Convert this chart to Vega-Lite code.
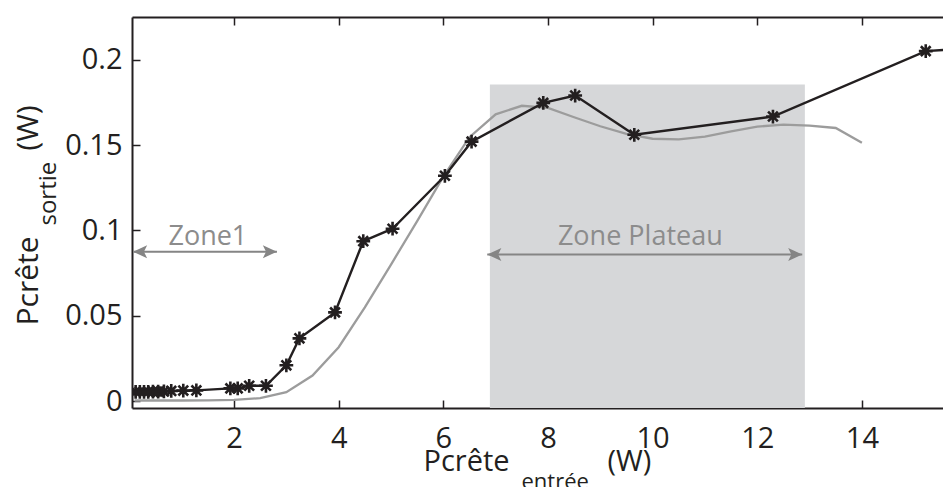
{
  "$schema": "https://vega.github.io/schema/vega-lite/v6.json",
  "width": 811,
  "height": 391,
  "autosize": {"type": "none"},
  "padding": {"left": 132, "top": 17, "right": 0, "bottom": 79},
  "background": "white",
  "config": {
    "view": {"stroke": null},
    "axis": {
      "grid": false,
      "domainColor": "#231f20",
      "domainWidth": 2,
      "tickColor": "#231f20",
      "tickWidth": 1.5,
      "tickSize": -8,
      "labelFont": "Open Sans",
      "labelFontSize": 29,
      "labelColor": "#231f20",
      "titleFont": "Open Sans",
      "titleFontWeight": "normal",
      "titleColor": "#231f20"
    }
  },
  "datasets": {
    "meas": [
      {"x": 0.12, "y": 0.0055}, {"x": 0.2, "y": 0.0055}, {"x": 0.28, "y": 0.0055}, {"x": 0.36, "y": 0.0055},
      {"x": 0.45, "y": 0.0056}, {"x": 0.55, "y": 0.0056}, {"x": 0.66, "y": 0.0057}, {"x": 0.8, "y": 0.006},
      {"x": 1.03, "y": 0.0062}, {"x": 1.28, "y": 0.0063}, {"x": 1.93, "y": 0.0075}, {"x": 2.07, "y": 0.0075},
      {"x": 2.29, "y": 0.009}, {"x": 2.61, "y": 0.009}, {"x": 3.0, "y": 0.021}, {"x": 3.25, "y": 0.0368},
      {"x": 3.93, "y": 0.052}, {"x": 4.47, "y": 0.0937}, {"x": 5.03, "y": 0.101}, {"x": 6.03, "y": 0.132},
      {"x": 6.54, "y": 0.152}, {"x": 7.91, "y": 0.1747}, {"x": 8.52, "y": 0.179}, {"x": 9.65, "y": 0.156},
      {"x": 12.3, "y": 0.1667}, {"x": 15.22, "y": 0.205}, {"x": 16.0, "y": 0.2065}
    ],
    "model": [
      {"x": 0.1, "y": 0.0004}, {"x": 0.5, "y": 0.0004}, {"x": 1.0, "y": 0.0004}, {"x": 1.5, "y": 0.0005},
      {"x": 2.0, "y": 0.0007}, {"x": 2.5, "y": 0.0018}, {"x": 3.0, "y": 0.0053}, {"x": 3.5, "y": 0.015},
      {"x": 4.0, "y": 0.0316}, {"x": 4.5, "y": 0.055}, {"x": 5.0, "y": 0.08}, {"x": 5.5, "y": 0.1055},
      {"x": 6.0, "y": 0.1315}, {"x": 6.5, "y": 0.1546}, {"x": 7.0, "y": 0.168}, {"x": 7.5, "y": 0.173},
      {"x": 8.0, "y": 0.1718}, {"x": 8.5, "y": 0.1663}, {"x": 9.0, "y": 0.161}, {"x": 9.5, "y": 0.1565},
      {"x": 10.0, "y": 0.1537}, {"x": 10.5, "y": 0.1533}, {"x": 11.0, "y": 0.155}, {"x": 11.5, "y": 0.158},
      {"x": 12.0, "y": 0.1608}, {"x": 12.5, "y": 0.162}, {"x": 13.0, "y": 0.1614}, {"x": 13.5, "y": 0.16},
      {"x": 14.0, "y": 0.1513}
    ],
    "zones": [{"x1": 6.89, "x2": 12.91, "y1": -0.004, "y2": 0.1854}],
    "arrows": [
      {"x1": 0.07, "x2": 2.82, "y": 0.0875},
      {"x1": 6.84, "x2": 12.86, "y": 0.0859}
    ],
    "heads": [
      {"x": 0.07, "y": 0.0875, "dir": "l"},
      {"x": 2.82, "y": 0.0875, "dir": "r"},
      {"x": 6.84, "y": 0.0859, "dir": "l"},
      {"x": 12.86, "y": 0.0859, "dir": "r"}
    ],
    "labels": [
      {"x": 1.5, "y": 0.0912, "t": "Zone1"},
      {"x": 9.765, "y": 0.0912, "t": "Zone Plateau"}
    ]
  },
  "resolve": {"axis": {"x": "independent", "y": "independent"}},
  "layer": [
    {
      "data": {"name": "zones"},
      "mark": {"type": "rect", "color": "#d6d7d9"},
      "encoding": {
        "x": {
          "field": "x1", "type": "quantitative",
          "scale": {"domain": [0.05, 15.55], "nice": false, "zero": false},
          "axis": {
            "orient": "bottom",
            "values": [2, 4, 6, 8, 10, 12, 14],
            "labelPadding": 24,
            "title": "Pcrête\u00a0\u00a0\u00a0\u00a0\u00a0\u00a0\u00a0\u00a0\u00a0\u00a0\u00a0\u00a0\u00a0(W)",
            "titleFontSize": 29,
            "titleAnchor": null,
            "titleAlign": "left",
            "titleBaseline": "alphabetic",
            "titleX": 291,
            "titleY": 62
          }
        },
        "x2": {"field": "x2"},
        "y": {
          "field": "y1", "type": "quantitative",
          "scale": {"domain": [-0.004, 0.225], "nice": false, "zero": false},
          "axis": {
            "orient": "left",
            "values": [0, 0.05, 0.1, 0.15, 0.2],
            "format": ".2~f",
            "labelPadding": 18,
            "title": "Pcrête\u00a0\u00a0\u00a0\u00a0\u00a0\u00a0\u00a0\u00a0\u00a0\u00a0\u00a0(W)",
            "titleFontSize": 30,
            "titleAngle": 270,
            "titleAnchor": null,
            "titleAlign": "left",
            "titleBaseline": "alphabetic",
            "titleX": -95,
            "titleY": 308
          }
        },
        "y2": {"field": "y2"}
      }
    },
    {
      "data": {"name": "model"},
      "mark": {"type": "line", "color": "#9c9c9c", "strokeWidth": 2.3, "clip": true},
      "encoding": {
        "x": {
          "field": "x", "type": "quantitative",
          "scale": {"domain": [0.05, 15.55], "nice": false, "zero": false},
          "axis": {
            "orient": "top",
            "values": [2, 4, 6, 8, 10, 12, 14],
            "labels": false,
            "title": "entrée",
            "titleFontSize": 22,
            "titleAnchor": null,
            "titleAlign": "left",
            "titleBaseline": "alphabetic",
            "titleX": 389,
            "titleY": 471
          }
        },
        "y": {
          "field": "y", "type": "quantitative",
          "scale": {"domain": [-0.004, 0.225], "nice": false, "zero": false},
          "axis": {
            "orient": "right",
            "domain": false,
            "ticks": false,
            "labels": false,
            "title": "sortie",
            "titleFontSize": 24,
            "titleAngle": 270,
            "titleAnchor": null,
            "titleAlign": "left",
            "titleBaseline": "alphabetic",
            "titleX": -888,
            "titleY": 208
          }
        }
      }
    },
    {
      "data": {"name": "meas"},
      "mark": {"type": "line", "color": "#231f20", "strokeWidth": 2.4, "clip": true},
      "encoding": {
        "x": {"field": "x", "type": "quantitative", "scale": {"domain": [0.05, 15.55], "nice": false, "zero": false}, "axis": null},
        "y": {"field": "y", "type": "quantitative", "scale": {"domain": [-0.004, 0.225], "nice": false, "zero": false}, "axis": null}
      }
    },
    {
      "data": {"name": "meas"},
      "mark": {
        "type": "point",
        "shape": "M-1,0L1,0M0,-1L0,1M-0.71,-0.71L0.71,0.71M-0.71,0.71L0.71,-0.71",
        "filled": false,
        "stroke": "#231f20",
        "strokeWidth": 2.6,
        "size": 190,
        "opacity": 1,
        "clip": true
      },
      "encoding": {
        "x": {"field": "x", "type": "quantitative", "scale": {"domain": [0.05, 15.55], "nice": false, "zero": false}, "axis": null},
        "y": {"field": "y", "type": "quantitative", "scale": {"domain": [-0.004, 0.225], "nice": false, "zero": false}, "axis": null}
      }
    },
    {
      "data": {"name": "arrows"},
      "mark": {"type": "rule", "color": "#858585", "strokeWidth": 2},
      "encoding": {
        "x": {"field": "x1", "type": "quantitative", "scale": {"domain": [0.05, 15.55], "nice": false, "zero": false}, "axis": null},
        "x2": {"field": "x2"},
        "y": {"field": "y", "type": "quantitative", "scale": {"domain": [-0.004, 0.225], "nice": false, "zero": false}, "axis": null}
      }
    },
    {
      "data": {"name": "heads"},
      "mark": {"type": "point", "filled": true, "color": "#858585", "size": 164, "opacity": 1},
      "encoding": {
        "x": {"field": "x", "type": "quantitative", "scale": {"domain": [0.05, 15.55], "nice": false, "zero": false}, "axis": null},
        "y": {"field": "y", "type": "quantitative", "scale": {"domain": [-0.004, 0.225], "nice": false, "zero": false}, "axis": null},
        "shape": {
          "field": "dir", "type": "nominal",
          "scale": {"domain": ["l", "r"], "range": ["M0,0L2.2,-1L1.7,0L2.2,1Z", "M0,0L-2.2,-1L-1.7,0L-2.2,1Z"]},
          "legend": null
        }
      }
    },
    {
      "data": {"name": "labels"},
      "mark": {"type": "text", "font": "Open Sans", "fontSize": 27, "color": "#8c8c8c", "align": "center", "baseline": "alphabetic"},
      "encoding": {
        "x": {"field": "x", "type": "quantitative", "scale": {"domain": [0.05, 15.55], "nice": false, "zero": false}, "axis": null},
        "y": {"field": "y", "type": "quantitative", "scale": {"domain": [-0.004, 0.225], "nice": false, "zero": false}, "axis": null},
        "text": {"field": "t"}
      }
    }
  ]
}
